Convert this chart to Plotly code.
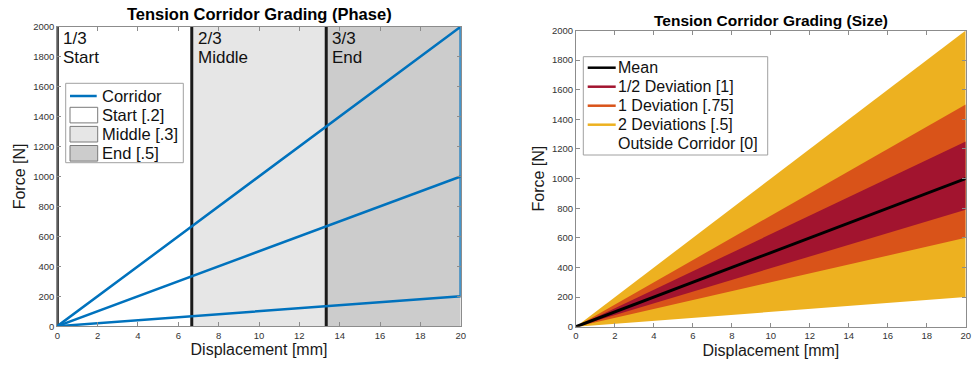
import plotly.graph_objects as go

# ---------------- data ----------------
# Phase chart
disp_range = [0, 20]
force_range = [0, 2000]
phase_bounds = [0, 20 / 3, 40 / 3, 20]
phase_fracs = ["1/3", "2/3", "3/3"]
phase_names = ["Start", "Middle", "End"]
phase_weights = [".2", ".3", ".5"]
corridor_end_x = 20
corridor_upper = 2000
corridor_mean = 1000
corridor_lower = 200

# Size chart
band_labels = ["2 Deviations [.5]", "1 Deviation [.75]", "1/2 Deviation [1]"]
band_upper = [2000, 1500, 1250]
band_lower = [200, 600, 790]
mean_end = 1000
outside_label = "Outside Corridor [0]"

# ---------------- styles ----------------
FONT = "Liberation Sans, Arial, Helvetica, sans-serif"
BLUE = "#0072BD"
phase_fill = ["#ffffff", "#e6e6e6", "#cccccc"]
band_fill = ["#EDB120", "#D95319", "#A2142F"]
AX_COL = "#8c8c8c"
W, H = 980, 367


def px(x):
    return x / W


def py(y):
    return 1 - y / H


fig = go.Figure()

# ---- left: phase shading ----
for i in range(3):
    a, b = phase_bounds[i], phase_bounds[i + 1]
    fig.add_trace(go.Scatter(
        x=[a, b, b, a, a], y=[force_range[0], force_range[0], force_range[1], force_range[1], force_range[0]],
        mode="lines", fill="toself", fillcolor=phase_fill[i], line=dict(width=0),
        showlegend=False, hoverinfo="skip", xaxis="x", yaxis="y"))

# phase boundary lines
bx, by = [], []
for b in phase_bounds[:3]:
    bx += [b, b, None]
    by += [force_range[0], force_range[1], None]
fig.add_trace(go.Scatter(x=bx, y=by, mode="lines", line=dict(color="#1a1a1a", width=3),
                         showlegend=False, hoverinfo="skip", xaxis="x", yaxis="y"))

# corridor
fig.add_trace(go.Scatter(
    x=[0, corridor_end_x, corridor_end_x, 0, None, 0, corridor_end_x],
    y=[0, corridor_upper, corridor_lower, 0, None, 0, corridor_mean],
    mode="lines", line=dict(color=BLUE, width=2.5), name="Corridor",
    showlegend=False, xaxis="x", yaxis="y"))

# ---- right: deviation bands ----
for i in range(3):
    fig.add_trace(go.Scatter(
        x=[0, corridor_end_x, corridor_end_x, 0], y=[0, band_upper[i], band_lower[i], 0],
        mode="lines", fill="toself", fillcolor=band_fill[i], line=dict(width=0),
        name=band_labels[i], showlegend=False, hoverinfo="skip", xaxis="x2", yaxis="y2"))
fig.add_trace(go.Scatter(x=[0, corridor_end_x], y=[0, mean_end], mode="lines",
                         line=dict(color="black", width=3), name="Mean",
                         showlegend=False, xaxis="x2", yaxis="y2"))

axis_common = dict(showgrid=False, zeroline=False, showline=True, linecolor=AX_COL, linewidth=1,
                   mirror="ticks", ticks="inside", ticklen=4, tickcolor=AX_COL, automargin=False,
                   tickfont=dict(family=FONT, size=9.5, color="#333333"))
title_font = dict(family=FONT, size=16, color="#1a1a1a")

fig.update_layout(
    width=W, height=H, margin=dict(l=0, r=0, t=0, b=0),
    paper_bgcolor="white", plot_bgcolor="white", showlegend=False,
    xaxis=dict(domain=[px(57.3), px(460.7)], range=disp_range, dtick=2, anchor="y",
               title=dict(text="Displacement [mm]", font=title_font, standoff=4), **axis_common),
    yaxis=dict(domain=[py(326.2), py(26.7)], range=force_range, dtick=200, anchor="x",
               title=dict(text="Force [N]", font=title_font, standoff=3), **axis_common),
    xaxis2=dict(domain=[px(576), px(965.7)], range=disp_range, dtick=2, anchor="y2",
                title=dict(text="Displacement [mm]", font=title_font, standoff=4), **axis_common),
    yaxis2=dict(domain=[py(326.7), py(30.5)], range=force_range, dtick=200, anchor="x2",
                title=dict(text="Force [N]", font=title_font, standoff=3), **axis_common),
)

ann = []
shapes = []
# titles
ann.append(dict(text="<b>Tension Corridor Grading (Phase)</b>", x=px(259), y=py(14), xref="paper", yref="paper",
                showarrow=False, xanchor="center", yanchor="middle", font=dict(family=FONT, size=16.5, color="black")))
ann.append(dict(text="<b>Tension Corridor Grading (Size)</b>", x=px(771), y=py(20), xref="paper", yref="paper",
                showarrow=False, xanchor="center", yanchor="middle", font=dict(family=FONT, size=15.5, color="black")))

# phase labels
for i in range(3):
    for txt, ys in ((phase_fracs[i], -11.3), (phase_names[i], -30.3)):
        ann.append(dict(text=txt, x=phase_bounds[i], y=force_range[1], xref="x", yref="y",
                        xanchor="left", yanchor="middle", xshift=4, yshift=ys, showarrow=False,
                        font=dict(family=FONT, size=17, color="#111111")))

# ---- manual legend, left ----
shapes.append(dict(type="rect", xref="paper", yref="paper", x0=px(65.7), x1=px(183.3), y0=py(162.7), y1=py(83.3),
                   line=dict(color="#a0a0a0", width=1), fillcolor="white", layer="above"))
leg_left_labels = ["Corridor"] + [f"{n} [{w}]" for n, w in zip(phase_names, phase_weights)]
rows_l = [96, 115.1, 134.2, 153.3]
shapes.append(dict(type="line", xref="paper", yref="paper", x0=px(70), x1=px(96.7), y0=py(96), y1=py(96),
                   line=dict(color=BLUE, width=2.5), layer="above"))
for i, yy in enumerate(rows_l[1:]):
    shapes.append(dict(type="rect", xref="paper", yref="paper", x0=px(70), x1=px(97.7), y0=py(yy + 7.8),
                       y1=py(yy - 7.8), line=dict(color="#7a7a7a", width=1), fillcolor=phase_fill[i], layer="above"))
for lab, yy in zip(leg_left_labels, rows_l):
    ann.append(dict(text=lab, x=px(99.5), y=py(yy), xref="paper", yref="paper", xanchor="left", yanchor="middle",
                    showarrow=False, font=dict(family=FONT, size=16.5, color="#111111")))

# ---- manual legend, right ----
shapes.append(dict(type="rect", xref="paper", yref="paper", x0=px(583.3), x1=px(767.7), y0=py(155), y1=py(56.7),
                   line=dict(color="#a0a0a0", width=1), fillcolor="white", layer="above"))
leg_right_labels = ["Mean", band_labels[2], band_labels[1], band_labels[0], outside_label]
leg_right_cols = ["black", band_fill[2], band_fill[1], band_fill[0], None]
rows_r = [67.7 + 19 * k for k in range(5)]
for lab, col, yy in zip(leg_right_labels, leg_right_cols, rows_r):
    if col:
        shapes.append(dict(type="line", xref="paper", yref="paper", x0=px(587.7), x1=px(615.7), y0=py(yy), y1=py(yy),
                           line=dict(color=col, width=2.5), layer="above"))
    ann.append(dict(text=lab, x=px(616), y=py(yy), xref="paper", yref="paper", xanchor="left", yanchor="middle",
                    showarrow=False, font=dict(family=FONT, size=16, color="#111111")))

fig.update_layout(annotations=ann, shapes=shapes)
fig.write_html("out.html", config={"displayModeBar": False},
               post_script="document.body.style.margin='0';document.body.style.overflow='hidden';")
